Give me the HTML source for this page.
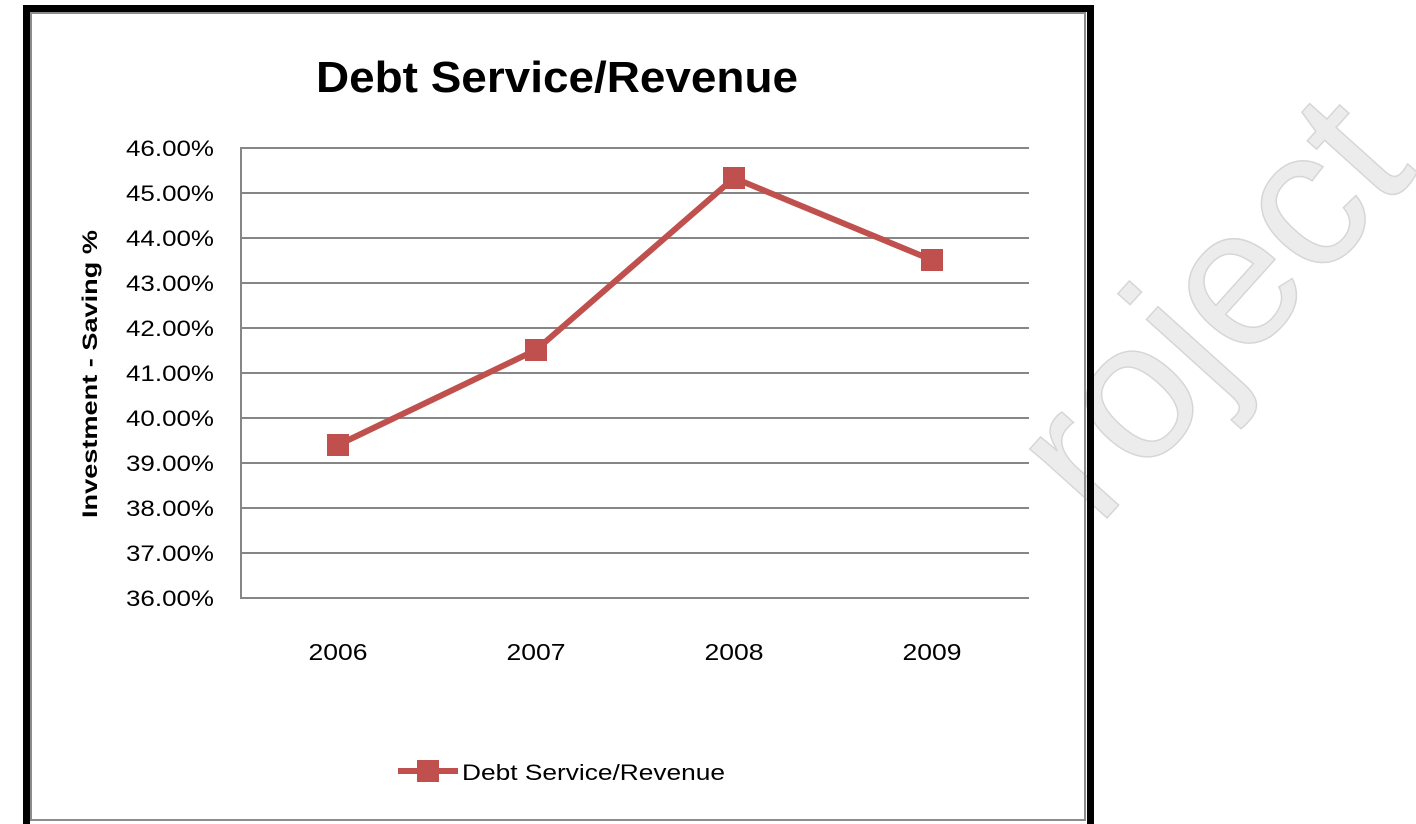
<!DOCTYPE html>
<html><head><meta charset="utf-8"><style>
html,body{margin:0;padding:0;background:#fff;}
svg{display:block;}
</style></head><body>
<svg width="1416" height="824" viewBox="0 0 1416 824" xmlns="http://www.w3.org/2000/svg" font-family="'Liberation Sans', sans-serif">
<rect x="0" y="0" width="1416" height="824" fill="#fff"/>
<!-- watermark -->
<text x="1098" y="528" transform="rotate(-48 1098 528)" font-size="196" fill="#ececec" stroke="#d6d6d6" stroke-width="1.5">roject</text>
<!-- frame -->
<rect x="23" y="5" width="7" height="830" fill="#000"/>
<rect x="23" y="5" width="1071" height="7" fill="#000"/>
<rect x="1087" y="5" width="7" height="830" fill="#000"/>
<rect x="31" y="13" width="1054" height="807" fill="none" stroke="#8c8c8c" stroke-width="2"/>
<!-- title -->
<text x="557" y="92" text-anchor="middle" font-size="44" font-weight="bold" textLength="482" lengthAdjust="spacingAndGlyphs">Debt Service/Revenue</text>
<!-- grid -->
<g stroke="#868686" stroke-width="2">
<line x1="241" y1="148" x2="1029" y2="148"/>
<line x1="241" y1="193" x2="1029" y2="193"/>
<line x1="241" y1="238" x2="1029" y2="238"/>
<line x1="241" y1="283" x2="1029" y2="283"/>
<line x1="241" y1="328" x2="1029" y2="328"/>
<line x1="241" y1="373" x2="1029" y2="373"/>
<line x1="241" y1="418" x2="1029" y2="418"/>
<line x1="241" y1="463" x2="1029" y2="463"/>
<line x1="241" y1="508" x2="1029" y2="508"/>
<line x1="241" y1="553" x2="1029" y2="553"/>
<line x1="241" y1="598" x2="1029" y2="598"/>
<line x1="241" y1="147" x2="241" y2="599"/>
</g>
<!-- y labels -->
<g font-size="22" text-anchor="end" fill="#000">
<text x="214" y="156" textLength="88" lengthAdjust="spacingAndGlyphs">46.00%</text>
<text x="214" y="201" textLength="88" lengthAdjust="spacingAndGlyphs">45.00%</text>
<text x="214" y="246" textLength="88" lengthAdjust="spacingAndGlyphs">44.00%</text>
<text x="214" y="291" textLength="88" lengthAdjust="spacingAndGlyphs">43.00%</text>
<text x="214" y="336" textLength="88" lengthAdjust="spacingAndGlyphs">42.00%</text>
<text x="214" y="381" textLength="88" lengthAdjust="spacingAndGlyphs">41.00%</text>
<text x="214" y="426" textLength="88" lengthAdjust="spacingAndGlyphs">40.00%</text>
<text x="214" y="471" textLength="88" lengthAdjust="spacingAndGlyphs">39.00%</text>
<text x="214" y="516" textLength="88" lengthAdjust="spacingAndGlyphs">38.00%</text>
<text x="214" y="561" textLength="88" lengthAdjust="spacingAndGlyphs">37.00%</text>
<text x="214" y="606" textLength="88" lengthAdjust="spacingAndGlyphs">36.00%</text>
</g>
<text x="97" y="374" transform="rotate(-90 97 374)" text-anchor="middle" font-size="21" font-weight="bold" textLength="288" lengthAdjust="spacingAndGlyphs">Investment - Saving  %</text>
<!-- x labels -->
<g font-size="23" text-anchor="middle">
<text x="338" y="660" textLength="59" lengthAdjust="spacingAndGlyphs">2006</text>
<text x="536" y="660" textLength="59" lengthAdjust="spacingAndGlyphs">2007</text>
<text x="734" y="660" textLength="59" lengthAdjust="spacingAndGlyphs">2008</text>
<text x="932" y="660" textLength="59" lengthAdjust="spacingAndGlyphs">2009</text>
</g>
<!-- series -->
<polyline points="338,445 536,350 734,178 932,260" fill="none" stroke="#c0504d" stroke-width="6" stroke-linejoin="round"/>
<g fill="#c0504d">
<rect x="327" y="434" width="22" height="22"/>
<rect x="525" y="339" width="22" height="22"/>
<rect x="723" y="167" width="22" height="22"/>
<rect x="921" y="249" width="22" height="22"/>
</g>
<!-- legend -->
<line x1="398" y1="771" x2="458" y2="771" stroke="#c0504d" stroke-width="6"/>
<rect x="417" y="760" width="22" height="22" fill="#c0504d"/>
<text x="462" y="780" font-size="22" textLength="263" lengthAdjust="spacingAndGlyphs">Debt Service/Revenue</text>
</svg>
</body></html>
